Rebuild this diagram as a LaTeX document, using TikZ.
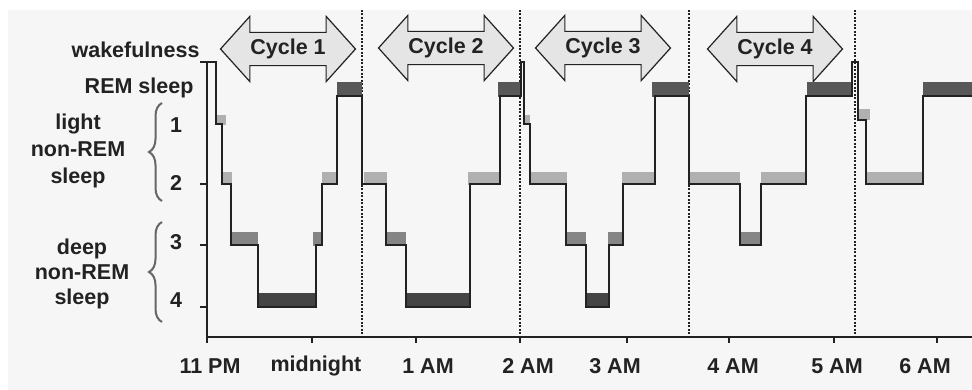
\documentclass[tikz,border=0pt]{standalone}
\usepackage{fontspec}
\setmainfont{Liberation Sans}
\usepackage{tikz}
\usetikzlibrary{shapes.arrows,%
                decorations.pathreplacing}

\definecolor{bggray}{HTML}{F6F6F6}
\definecolor{inkgray}{HTML}{222222}
\definecolor{stagetwo}{HTML}{B0B0B0}
\definecolor{stagethree}{HTML}{858585}
\definecolor{stagefour}{HTML}{444444}
\definecolor{remgray}{HTML}{585858}

\tikzset{
  lab/.style={font=\bfseries\fontsize{21.5}{27}\selectfont, text=inkgray},
  cyclearrow/.style={shape=double arrow, draw=inkgray, line width=1.2pt,
    fill=black!10, double arrow head extend=16pt, double arrow tip angle=96,
    minimum height=135pt, inner ysep=6pt, inner xsep=0pt, lab},
  cycleline/.style={inkgray, line width=1.5pt, dash pattern=on 2pt off 1.5pt},
  hypno/.style={inkgray, line width=1.5pt},
  tickline/.style={inkgray, line width=1.2pt},
  stagebrace/.style={black!60, line width=2pt, decorate,
    decoration={brace, amplitude=13pt}},
  lightbar/.style={fill=stagetwo},
  midbar/.style={fill=stagethree},
  deepbar/.style={fill=stagefour},
  rembar/.style={fill=remgray}
}

\begin{document}
\begin{tikzpicture}[x=1pt,y=-1pt]
\useasboundingbox (0,0) rectangle (972,390);
\fill[bggray] (8,10) rectangle (972,390);

\draw[cycleline] (362,10) -- (362,337);
\draw[cycleline] (520,10) -- (520,337);
\draw[cycleline] (689,10) -- (689,337);
\draw[cycleline] (855,10) -- (855,337);

\node[cyclearrow] (cyc1) at (288,49) {Cycle 1};
\node[cyclearrow] (cyc2) at (446,48) {Cycle 2};
\node[cyclearrow] (cyc3) at (603,48) {Cycle 3};
\node[cyclearrow] (cyc4) at (775,49) {Cycle 4};

\fill[lightbar] (215,115) rectangle (226,125);
\fill[lightbar] (221,172) rectangle (232,185);
\fill[midbar] (231,232) rectangle (258,246);
\fill[deepbar] (258,293) rectangle (316,308);
\fill[midbar] (313,232) rectangle (322,246);
\fill[lightbar] (322,172) rectangle (337,185);
\fill[rembar] (337,82) rectangle (362,97);
\fill[lightbar] (364,172) rectangle (387,185);
\fill[midbar] (386,232) rectangle (406,246);
\fill[deepbar] (406,293) rectangle (470,308);
\fill[lightbar] (468,172) rectangle (500,185);
\fill[rembar] (498,82) rectangle (521,97);
\fill[lightbar] (524,115) rectangle (530,125);
\fill[lightbar] (531,172) rectangle (567,185);
\fill[midbar] (565,232) rectangle (586,246);
\fill[deepbar] (586,293) rectangle (609,308);
\fill[midbar] (608,232) rectangle (623,246);
\fill[lightbar] (622,172) rectangle (655,185);
\fill[rembar] (652,82) rectangle (689,97);
\fill[lightbar] (689,172) rectangle (740,185);
\fill[midbar] (740,232) rectangle (762,246);
\fill[lightbar] (761,172) rectangle (807,185);
\fill[rembar] (807,82) rectangle (852,97);
\fill[lightbar] (858,109) rectangle (870,120);
\fill[lightbar] (866,172) rectangle (923,185);
\fill[rembar] (923,82) rectangle (972,97);

\draw[hypno] (200,62) -- (216,62) -- (216,124) -- (222,124) -- (222,184)
  -- (231,184) -- (231,245) -- (258,245) -- (258,307) -- (316,307)
  -- (316,245) -- (322,245) -- (322,184) -- (337,184) -- (337,96)
  -- (362,96) -- (362,184) -- (386,184) -- (386,245) -- (406,245)
  -- (406,307) -- (470,307) -- (470,184) -- (500,184) -- (500,96)
  -- (521,96) -- (521,62) -- (524,62) -- (524,124) -- (530,124)
  -- (530,184) -- (566,184) -- (566,245) -- (586,245) -- (586,307)
  -- (609,307) -- (609,245) -- (623,245) -- (623,184) -- (655,184)
  -- (655,96) -- (689,96) -- (689,184) -- (740,184) -- (740,245)
  -- (761,245) -- (761,184) -- (806,184) -- (806,96) -- (852,96)
  -- (852,62) -- (858,62) -- (858,120) -- (866,120) -- (866,184)
  -- (923,184) -- (923,96) -- (972,96);

\draw[inkgray, line width=1.4pt] (207,62) -- (207,337) -- (972,337);
\draw[tickline] (200,184) -- (207,184);
\draw[tickline] (200,245) -- (207,245);
\draw[tickline] (200,307) -- (207,307);
\draw[tickline] (207,337) -- (207,343);
\draw[tickline] (312,337) -- (312,343);
\draw[tickline] (416,337) -- (416,343);
\draw[tickline] (520,337) -- (520,343);
\draw[tickline] (627,337) -- (627,343);
\draw[tickline] (729,337) -- (729,343);
\draw[tickline] (834,337) -- (834,343);
\draw[tickline] (937,337) -- (937,343);

\node[lab, anchor=east] (wake) at (203,50) {wakefulness};
\node[lab, anchor=east] (rem) at (197,88) {REM sleep};
\node[lab] (one) at (176,125) {1};
\node[lab] (two) at (176,183) {2};
\node[lab] (three) at (176,242) {3};
\node[lab] (four) at (176,300) {4};
\node[lab, align=center] (light) at (78,151) {light\\non-REM\\sleep};
\node[lab, align=center, font=\bfseries\fontsize{21.5}{25}\selectfont] (deep) at (82,274) {deep\\non-REM\\sleep};

\draw[stagebrace] (162,201) -- (162,103);
\draw[stagebrace] (162,322) -- (162,222);

\node[lab] (t11) at (210,366) {11 PM};
\node[lab] (t12) at (316,366) {midnight};
\node[lab] (t1) at (428,366) {1 AM};
\node[lab] (t2) at (528,366) {2 AM};
\node[lab] (t3) at (615,366) {3 AM};
\node[lab] (t4) at (733,366) {4 AM};
\node[lab] (t5) at (837,366) {5 AM};
\node[lab] (t6) at (925,366) {6 AM};
\end{tikzpicture}
\end{document}
